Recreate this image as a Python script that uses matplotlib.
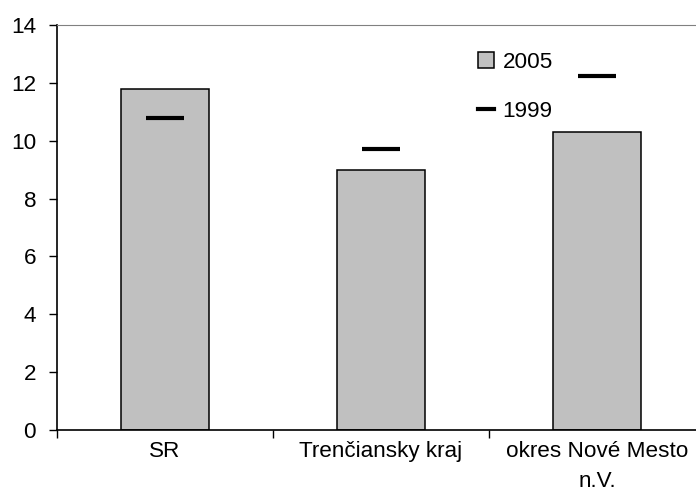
import matplotlib
matplotlib.use("Agg")
import matplotlib.pyplot as plt
from matplotlib.lines import Line2D
from matplotlib.patches import Patch
import numpy as np

# data
categories = ["SR", "Trenčiansky kraj", "okres Nové Mesto\nn.V."]
values_2005 = [11.8, 9.0, 10.3]
values_1999 = [10.8, 9.7, 12.25]
y_ticks = [0, 2, 4, 6, 8, 10, 12, 14]

plt.rcParams["font.family"] = ["Liberation Sans", "DejaVu Sans"]
plt.rcParams["font.size"] = 16.2

fig = plt.figure(figsize=(6.96, 4.91), dpi=100)
ax = fig.add_axes([57 / 696, 61 / 491, 648 / 696, 405 / 491])

x = np.arange(len(categories))
ax.bar(x, values_2005, width=0.405, color="#C0C0C0", edgecolor="black",
       linewidth=1.1, zorder=2)
ax.plot(x, values_1999, linestyle="none", marker="_", markersize=27,
        markeredgewidth=3, color="black", zorder=3)

ax.set_xlim(-0.5, 2.5)
ax.set_ylim(0, 14)
ax.set_yticks(y_ticks)
ax.set_xticks(x)
ax.set_xticklabels(categories, linespacing=1.55)
ax.set_xticks([-0.5, 0.5, 1.5], minor=True)
ax.tick_params(axis="x", which="major", length=0, pad=8)
ax.tick_params(axis="x", which="minor", length=6, width=1, direction="out")
ax.tick_params(axis="y", length=6, width=1, direction="out", pad=9)

ax.spines["right"].set_visible(False)
ax.spines["top"].set_color("#808080")
ax.spines["left"].set_linewidth(1.2)
ax.spines["bottom"].set_linewidth(1.2)

handles = [Patch(facecolor="#C0C0C0", edgecolor="black", linewidth=1.1),
           Line2D([], [], color="black", linewidth=3)]
ax.legend(handles, ["2005", "1999"], loc="upper left",
          bbox_to_anchor=(0.632, 0.962), frameon=False, borderpad=0,
          handlelength=0.7, handleheight=0.7, handletextpad=0.4,
          labelspacing=1.25)

fig.savefig("out.png", dpi=100)
